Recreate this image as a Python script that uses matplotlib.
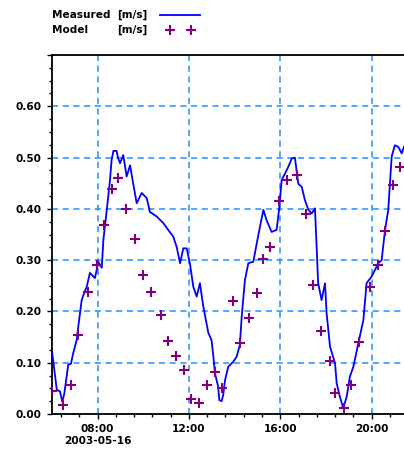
import matplotlib
matplotlib.use("Agg")
import matplotlib.pyplot as plt
from matplotlib.lines import Line2D
from matplotlib.ticker import MultipleLocator, FuncFormatter

# Current speed on 2003-05-16, time in decimal hours of the day.
measured_hours = [
    6.01, 6.21, 6.35, 6.45, 6.54, 6.64, 6.71, 6.83, 6.93, 7.08, 7.15, 7.30,
    7.40, 7.52, 7.66, 7.77, 7.88, 8.03, 8.18, 8.25, 8.40, 8.54, 8.61, 8.69,
    8.83, 8.89, 8.98, 9.12, 9.27, 9.42, 9.53, 9.71, 9.81, 9.93, 10.15, 10.29,
    10.59, 10.88, 11.09, 11.31, 11.46, 11.61, 11.75, 11.90, 12.04, 12.19,
    12.34, 12.48, 12.63, 12.85, 12.99, 13.07, 13.14, 13.28, 13.33, 13.43,
    13.50, 13.58, 13.72, 13.94, 14.09, 14.23, 14.31, 14.45, 14.60, 14.82,
    14.97, 15.11, 15.26, 15.40, 15.62, 15.84, 15.96, 16.06, 16.21, 16.35,
    16.50, 16.64, 16.79, 16.94, 17.08, 17.23, 17.38, 17.52, 17.59, 17.66,
    17.81, 17.96, 18.03, 18.18, 18.40, 18.47, 18.61, 18.76, 18.91, 19.05,
    19.20, 19.42, 19.64, 19.78, 20.00, 20.15, 20.29, 20.44, 20.59, 20.73,
    20.88, 21.02, 21.17, 21.32, 21.42,
]
measured_speed = [
    0.119, 0.047, 0.044, 0.024, 0.040, 0.073, 0.096, 0.098, 0.119, 0.144,
    0.170, 0.222, 0.235, 0.248, 0.275, 0.270, 0.265, 0.297, 0.285, 0.339,
    0.398, 0.456, 0.495, 0.513, 0.513, 0.500, 0.489, 0.505, 0.463, 0.485,
    0.456, 0.411, 0.420, 0.431, 0.421, 0.394, 0.385, 0.372, 0.359, 0.346,
    0.326, 0.294, 0.323, 0.323, 0.294, 0.248, 0.229, 0.255, 0.209, 0.158,
    0.144, 0.112, 0.079, 0.053, 0.027, 0.025, 0.037, 0.066, 0.092, 0.102,
    0.112, 0.135, 0.190, 0.261, 0.294, 0.297, 0.333, 0.365, 0.398, 0.378,
    0.355, 0.359, 0.404, 0.456, 0.469, 0.482, 0.498, 0.500, 0.449, 0.443,
    0.417, 0.398, 0.391, 0.401, 0.329, 0.255, 0.222, 0.255, 0.196, 0.131,
    0.099, 0.060, 0.034, 0.011, 0.034, 0.073, 0.092, 0.138, 0.183, 0.255,
    0.268, 0.281, 0.294, 0.300, 0.359, 0.398, 0.502, 0.524, 0.521, 0.508,
    0.521,
]

model_hours = [
    6.01, 6.46, 6.82, 7.15, 7.59, 7.96, 8.29, 8.61, 8.90, 9.24, 9.64, 9.97,
    10.32, 10.76, 11.09, 11.43, 11.78, 12.08, 12.45, 12.78, 13.14, 13.46,
    13.91, 14.25, 14.64, 14.97, 15.24, 15.57, 15.93, 16.28, 16.73, 17.12,
    17.45, 17.77, 18.16, 18.40, 18.77, 19.11, 19.47, 19.91, 20.27, 20.60,
    20.95, 21.23,
]
model_speed = [
    0.045, 0.017, 0.056, 0.154, 0.238, 0.290, 0.368, 0.438, 0.461, 0.400,
    0.342, 0.271, 0.238, 0.193, 0.143, 0.114, 0.086, 0.030, 0.021, 0.056,
    0.081, 0.050, 0.220, 0.138, 0.188, 0.236, 0.302, 0.325, 0.415, 0.457,
    0.466, 0.390, 0.251, 0.161, 0.103, 0.040, 0.012, 0.056, 0.141, 0.247,
    0.290, 0.356, 0.446, 0.481,
]

DATE_LABEL = "2003-05-16"
W, H = 404, 457

LINE_BLUE = "#0000ff"
MODEL_PURPLE = "#800080"
GRID_BLUE = "#1e90ff"
FONT = dict(family="DejaVu Sans", weight="bold", size=7.6)

plt.rcParams["font.family"] = "DejaVu Sans"

fig = plt.figure(figsize=(W / 100, H / 100), dpi=100)
ax = fig.add_axes([52 / W, 43 / H, (W - 52) / W, (414 - 55) / H])

ax.plot(measured_hours, measured_speed, color=LINE_BLUE, linewidth=1.3, zorder=3)
ax.plot(model_hours, model_speed, linestyle="none", marker="+",
        markersize=7, markeredgewidth=1.5, color=MODEL_PURPLE, zorder=4)

ax.set_xlim(6.0, 21.42)
ax.set_ylim(0.0, 0.70)

# Major ticks every 4 h, minor every 48 min; speed every 0.1 with 0.025 minors
ax.xaxis.set_major_locator(MultipleLocator(4))
ax.xaxis.set_minor_locator(MultipleLocator(0.8))
ax.yaxis.set_major_locator(MultipleLocator(0.1))
ax.yaxis.set_minor_locator(MultipleLocator(0.025))


def hour_label(x, pos):
    label = f"{int(round(x)):02d}:00"
    if abs(x - 8) < 1e-6:
        label += "\n" + DATE_LABEL
    return label


def speed_label(y, pos):
    return "" if y > 0.65 else f"{y:.2f}"


ax.xaxis.set_major_formatter(FuncFormatter(hour_label))
ax.yaxis.set_major_formatter(FuncFormatter(speed_label))

ax.tick_params(axis="both", which="major", direction="out", length=3.5,
               width=1.0, pad=4, labelsize=FONT["size"])
ax.tick_params(axis="both", which="minor", direction="out", length=2.2, width=1.0)
for lbl in ax.get_xticklabels() + ax.get_yticklabels():
    lbl.set_fontweight("bold")

ax.grid(True, which="major", color=GRID_BLUE, linestyle=(0, (4, 3)),
        linewidth=1.1, zorder=1)

ax.spines["right"].set_visible(False)
for side in ("left", "bottom", "top"):
    ax.spines[side].set_linewidth(1.3)

# Legend block above the axes: label, unit, sample
fig.text(52 / W, 1 - 15 / H, "Measured", va="center", ha="left", **FONT)
fig.text(117 / W, 1 - 15 / H, "[m/s]", va="center", ha="left", **FONT)
fig.text(52 / W, 1 - 30 / H, "Model", va="center", ha="left", **FONT)
fig.text(117 / W, 1 - 30 / H, "[m/s]", va="center", ha="left", **FONT)
fig.add_artist(Line2D([160 / W, 200 / W], [1 - 15 / H, 1 - 15 / H],
                      transform=fig.transFigure, color=LINE_BLUE, linewidth=1.3))
fig.add_artist(Line2D([170 / W, 191 / W], [1 - 30 / H, 1 - 30 / H],
                      transform=fig.transFigure, linestyle="none", marker="+",
                      markersize=7, markeredgewidth=1.5, color=MODEL_PURPLE))

fig.savefig("out.png", dpi=100)
